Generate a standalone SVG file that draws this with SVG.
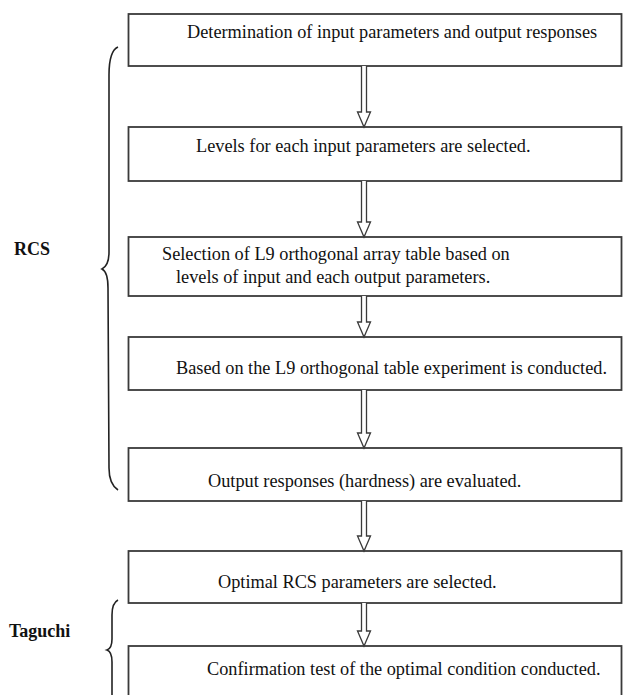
<svg xmlns="http://www.w3.org/2000/svg" width="623" height="695" viewBox="0 0 623 695">
<style>
.box{fill:#fff;stroke:#3a3a3a;stroke-width:1.8}
.t{font-family:"Liberation Serif","Times New Roman",serif;font-size:18.3px;fill:#111}
.lbl{font-family:"Liberation Serif","Times New Roman",serif;font-size:18px;font-weight:bold;fill:#111}
.arr{fill:#fff;stroke:#3a3a3a;stroke-width:1.3;stroke-linejoin:miter}
.brace{fill:none;stroke:#222;stroke-width:1.6}
</style>
<rect width="623" height="695" fill="#fff"/>
<g id="n1"><rect class="box" x="128.5" y="14" width="493" height="52"/><text class="t" x="187" y="38">Determination of input parameters and output responses</text></g>
<g id="n2"><rect class="box" x="128.5" y="127" width="493" height="54"/><text class="t" x="196" y="152">Levels for each input parameters are selected.</text></g>
<g id="n3"><rect class="box" x="128.5" y="237" width="493" height="59"/><text class="t" x="162" y="260">Selection of L9 orthogonal array table based on</text><text class="t" x="176" y="283">levels of input and each output parameters.</text></g>
<g id="n4"><rect class="box" x="128.5" y="337" width="493" height="53"/><text class="t" x="176" y="374">Based on the L9 orthogonal table experiment is conducted.</text></g>
<g id="n5"><rect class="box" x="128.5" y="448" width="493" height="53"/><text class="t" x="208" y="487">Output responses (hardness) are evaluated.</text></g>
<g id="n6"><rect class="box" x="128.5" y="551" width="493" height="52"/><text class="t" x="218" y="588">Optimal RCS parameters are selected.</text></g>
<g id="n7"><rect class="box" x="128.5" y="646" width="493" height="80"/><text class="t" x="207" y="675">Confirmation test of the optimal condition conducted.</text></g>
<g id="connectors">
<path class="arr" d="M361.5,66 L361.5,112 L357.5,112 L364,127 L370.5,112 L366.5,112 L366.5,66"/>
<path class="arr" d="M361.5,181 L361.5,222 L357.5,222 L364,237 L370.5,222 L366.5,222 L366.5,181"/>
<path class="arr" d="M361.5,296 L361.5,322 L357.5,322 L364,337 L370.5,322 L366.5,322 L366.5,296"/>
<path class="arr" d="M361.5,390 L361.5,433 L357.5,433 L364,448 L370.5,433 L366.5,433 L366.5,390"/>
<path class="arr" d="M361.5,501 L361.5,536 L357.5,536 L364,551 L370.5,536 L366.5,536 L366.5,501"/>
<path class="arr" d="M361.5,603 L361.5,631 L357.5,631 L364,646 L370.5,631 L366.5,631 L366.5,603"/>
</g>
<g id="rcs">
<path class="brace" d="M118,47 C111,50 109,60 109,75 L109,252 C109,263 106,267 102,269 C106,271 108,276 108,288 L109,468 C109,480 112,486 118,490"/>
<text class="lbl" x="14" y="255">RCS</text>
</g>
<g id="taguchi">
<path class="brace" d="M118,600 C114,602 112,607 112,615 L112,639 C112,646 110,649 107,650 C110,651 112,655 112,662 L112,700"/>
<text class="lbl" x="9" y="637">Taguchi</text>
</g>
</svg>
